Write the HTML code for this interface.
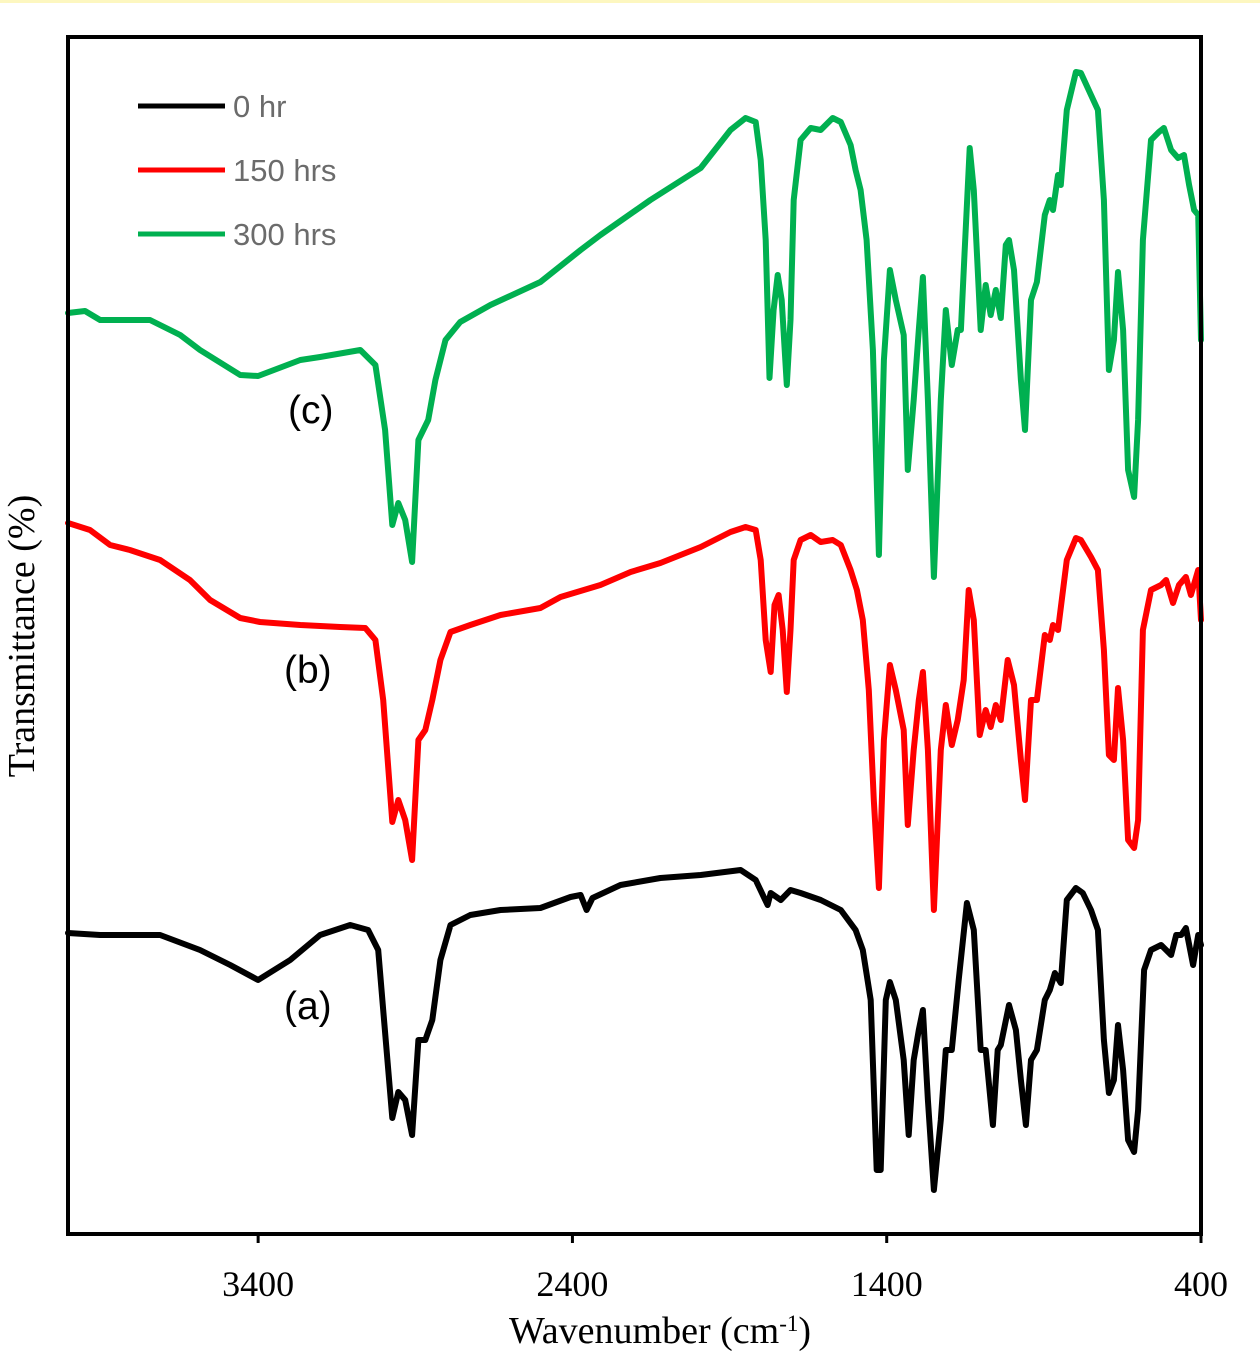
<!DOCTYPE html>
<html><head><meta charset="utf-8"><style>
html,body{margin:0;padding:0;background:#fff;}
svg{display:block;}
</style></head><body>
<svg id="chart" width="1260" height="1356" xmlns="http://www.w3.org/2000/svg">
<rect x="0" y="0" width="1260" height="3" fill="#fdf7c0"/>
<g id="series"></g>
<rect x="68" y="37" width="1133" height="1197" fill="none" stroke="#000" stroke-width="4"/>
<g id="xticks"></g>
<text x="660" y="1343" font-family="Liberation Serif, serif" font-size="38" text-anchor="middle">Wavenumber (cm<tspan baseline-shift="super" font-size="23">-1</tspan>)</text>
<text transform="translate(34,636) rotate(-90)" font-family="Liberation Serif, serif" font-size="38" text-anchor="middle">Transmittance (%)</text>
<g font-family="Liberation Sans, sans-serif" font-size="31" fill="#6b6b6b">
<line x1="138" y1="106" x2="225" y2="106" stroke="#000" stroke-width="5"/>
<text x="233" y="117">0 hr</text>
<line x1="138" y1="170" x2="225" y2="170" stroke="#ff0000" stroke-width="5"/>
<text x="233" y="181">150 hrs</text>
<line x1="138" y1="234" x2="225" y2="234" stroke="#00b050" stroke-width="5"/>
<text x="233" y="245">300 hrs</text>
</g>
<g font-family="Liberation Sans, sans-serif" font-size="39" fill="#000">
<text x="288" y="423">(c)</text>
<text x="284" y="683">(b)</text>
<text x="284" y="1019">(a)</text>
</g>
</svg>
<script>
const xTicks = [3400, 2400, 1400, 400];
const wnC = [4005,3951,3903,3744,3648,3585,3457,3400,3266,3203,3075,3027,2996,2973,2954,2932,2910,2890,2859,2836,2804,2757,2661,2502,2374,2311,2152,1992,1897,1849,1817,1801,1785,1773,1760,1747,1734,1718,1706,1696,1674,1642,1610,1572,1546,1515,1499,1483,1464,1444,1425,1409,1390,1371,1346,1333,1314,1298,1285,1269,1250,1228,1212,1193,1174,1164,1152,1136,1123,1101,1085,1069,1053,1037,1021,1011,995,973,960,941,922,897,881,871,855,846,827,798,782,750,728,709,693,677,664,648,632,613,600,585,559,534,518,495,473,454,438,422,409,400];
const tC = [921,923,914,914,899,884,859,858,874,877,884,869,804,709,731,714,672,794,814,854,894,912,929,952,984,999,1034,1066,1104,1116,1112,1074,994,856,924,959,934,849,914,1034,1094,1106,1104,1116,1112,1089,1064,1044,994,884,679,874,964,934,899,764,834,904,957,834,657,834,924,869,904,904,984,1086,1044,904,949,919,944,916,989,994,964,854,804,934,952,1019,1034,1024,1059,1049,1124,1162,1161,1139,1124,1034,864,894,962,904,764,737,814,994,1094,1102,1106,1084,1076,1079,1049,1024,1019,894];
const wnB = [4005,3935,3871,3808,3712,3617,3553,3457,3394,3266,3139,3059,3027,3002,2973,2954,2932,2910,2890,2868,2846,2820,2788,2725,2629,2502,2438,2311,2215,2120,1992,1897,1849,1817,1801,1785,1769,1757,1744,1731,1718,1706,1696,1674,1642,1610,1572,1546,1515,1495,1476,1457,1441,1425,1409,1390,1371,1346,1333,1314,1298,1285,1269,1250,1228,1212,1193,1174,1155,1139,1123,1104,1085,1069,1053,1037,1015,995,973,960,941,922,897,881,871,855,827,798,782,750,728,709,693,677,664,648,632,613,600,585,559,527,511,489,470,448,432,409,400];
const tB = [711,704,689,684,674,654,634,616,612,609,607,606,594,534,412,434,414,374,494,504,534,574,602,609,619,626,637,649,662,671,687,702,707,704,674,594,562,629,639,604,542,604,674,694,699,692,694,689,664,644,614,544,434,346,494,569,544,504,409,484,534,562,484,324,484,529,489,514,554,644,614,499,524,507,529,514,574,549,474,434,534,534,599,594,609,604,674,696,694,677,664,584,479,474,546,494,394,386,414,604,644,649,654,631,649,657,639,664,614];
const wnA = [4005,3903,3808,3712,3585,3489,3400,3298,3203,3107,3050,3018,3002,2973,2954,2932,2910,2890,2868,2846,2820,2788,2725,2629,2502,2406,2374,2355,2336,2247,2120,1992,1865,1817,1779,1769,1737,1706,1674,1610,1546,1499,1476,1451,1432,1419,1403,1390,1371,1346,1330,1314,1298,1285,1269,1250,1228,1212,1193,1171,1145,1123,1101,1085,1062,1047,1037,1011,989,973,957,941,922,897,881,865,846,827,798,776,750,728,709,693,677,664,648,632,613,600,581,559,527,495,479,463,448,425,409,400];
const tA = [301,299,299,299,284,269,254,274,299,309,304,284,224,116,142,134,99,194,194,214,274,309,319,324,326,337,339,324,336,349,356,359,364,354,329,341,334,344,341,334,324,304,284,234,64,64,234,252,234,174,99,174,204,224,134,44,114,184,184,254,331,304,184,184,109,184,189,229,204,154,109,174,184,234,244,261,251,334,346,341,324,304,194,141,154,209,164,94,82,124,264,284,289,279,299,299,306,269,299,289];

const X0 = 68, X1 = 1201, Y0 = 37, Y1 = 1234;
const xMin = 4005, xMax = 400, yMin = 0, yMax = 1197;
function xs(w){ return X0 + (xMin - w) / (xMin - xMax) * (X1 - X0); }
function ys(v){ return Y1 - (v - yMin) / (yMax - yMin) * (Y1 - Y0); }
const NS = 'http://www.w3.org/2000/svg';
const g = document.getElementById('series');
function draw(wn, t, color, name){
  let d = '';
  for (let i = 0; i < Math.min(wn.length, t.length); i++) d += (i ? 'L' : 'M') + xs(wn[i]).toFixed(1) + ',' + ys(t[i]).toFixed(1);
  const p = document.createElementNS(NS, 'path');
  p.setAttribute('d', d);
  p.setAttribute('fill', 'none');
  p.setAttribute('stroke', color);
  p.setAttribute('stroke-width', '6');
  p.setAttribute('stroke-linejoin', 'round');
  p.setAttribute('stroke-linecap', 'round');
  
  
  g.appendChild(p);
}
draw(wnC, tC, '#00b050', 'series-300hrs');
draw(wnB, tB, '#ff0000', 'series-150hrs');
draw(wnA, tA, '#000000', 'series-0hr');
const xt = document.getElementById('xticks');
xTicks.forEach(v => {
  const l = document.createElementNS(NS, 'line');
  l.setAttribute('x1', xs(v)); l.setAttribute('x2', xs(v));
  l.setAttribute('y1', Y1); l.setAttribute('y2', Y1 + 9);
  l.setAttribute('stroke', '#000'); l.setAttribute('stroke-width', '3');
  
  
  xt.appendChild(l);
  const tx = document.createElementNS(NS, 'text');
  tx.setAttribute('x', xs(v)); tx.setAttribute('y', 1296);
  tx.setAttribute('text-anchor', 'middle');
  tx.setAttribute('font-family', 'Liberation Serif, serif');
  tx.setAttribute('font-size', '36');
  tx.textContent = v;
  
  
  xt.appendChild(tx);
});
</script>
</body></html>
